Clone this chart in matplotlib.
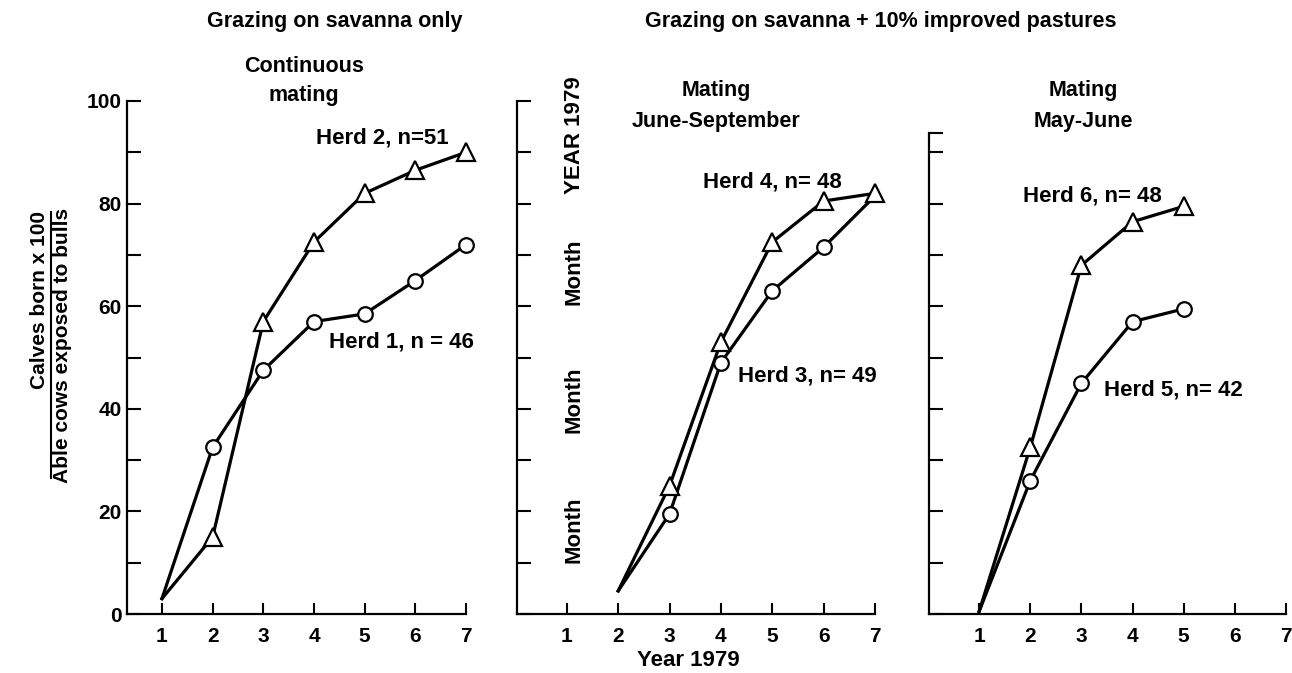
import matplotlib
matplotlib.use("Agg")
import matplotlib.pyplot as plt
from matplotlib.ticker import FixedLocator

plt.rcParams['font.family'] = ['Liberation Sans', 'DejaVu Sans']
plt.rcParams['font.weight'] = 'bold'

# data (% calves born per able cow, cumulative by month)
months1 = [1, 2, 3, 4, 5, 6, 7]
herd1 = [3, 32.5, 47.5, 57, 58.5, 65, 72]
herd2 = [3, 15, 57, 72.5, 82, 86.5, 90]

months2 = [2, 3, 4, 5, 6, 7]
herd3 = [4.5, 19.5, 49, 63, 71.5, 81.5]
herd4 = [4.5, 25, 53, 72.5, 80.5, 82]

months3 = [1, 2, 3, 4, 5]
herd5 = [0.5, 26, 45, 57, 59.5]
herd6 = [0.5, 32.5, 68, 76.5, 79.5]

xticks = [1, 2, 3, 4, 5, 6, 7]

W, H = 1292, 673
fig = plt.figure(figsize=(W / 100, H / 100), dpi=100)

def px_axes(left, right, top, bottom):
    return fig.add_axes([left / W, (H - bottom) / H, (right - left) / W, (bottom - top) / H])

def style(ax, xmin, ymax, show_ylabels):
    ax.set_xlim(xmin, 7)
    ax.set_ylim(0, ymax)
    for s in ['top', 'right']:
        ax.spines[s].set_visible(False)
    for s in ['left', 'bottom']:
        ax.spines[s].set_linewidth(1.6)
    ax.xaxis.set_major_locator(FixedLocator(xticks))
    ticks = [v for v in range(0, 101, 10) if v <= ymax]
    if ymax not in ticks:
        ticks.append(ymax)
    ax.yaxis.set_major_locator(FixedLocator(ticks))
    ax.tick_params(axis='x', direction='in', length=8, width=1.5, labelsize=15, pad=9)
    ax.tick_params(axis='y', direction='in', length=10, width=1.5, labelsize=15, pad=4)
    if show_ylabels:
        ax.set_yticklabels([str(v) if v % 20 == 0 else '' for v in ticks])
    else:
        ax.set_yticklabels([])
    for lab in ax.get_xticklabels() + ax.get_yticklabels():
        lab.set_fontweight('bold')

def herd(ax, x, y, marker, ms, skip_last=False):
    idx = list(range(1, len(x) - (1 if skip_last else 0)))
    ax.plot(x, y, color='black', lw=2.3, marker=marker, ms=ms, mfc='white',
            mec='black', mew=1.6, markevery=idx, zorder=3, clip_on=False)

ax1 = px_axes(127, 466, 101, 614)
ax2 = px_axes(517, 875, 101, 614)
ax3 = px_axes(929, 1286, 133, 614)

style(ax1, 0.31, 100, True)
style(ax2, 0.03, 100, False)
style(ax3, 0.02, 93.8, False)

herd(ax1, months1, herd1, 'o', 10.5)
herd(ax1, months1, herd2, '^', 12.5)
herd(ax2, months2, herd3, 'o', 10.5, skip_last=True)
herd(ax2, months2, herd4, '^', 12.5)
herd(ax3, months3, herd5, 'o', 10.5)
herd(ax3, months3, herd6, '^', 12.5)

lab = dict(fontsize=16, fontweight='bold', va='center', ha='left')
ax1.text(4.03, 92.8, 'Herd 2, n=51', **lab)
ax1.text(4.29, 53.0, 'Herd 1, n = 46', **lab)
ax2.text(3.66, 84.2, 'Herd 4, n= 48', **lab)
ax2.text(4.33, 46.4, 'Herd 3, n= 49', **lab)
ax3.text(1.86, 81.5, 'Herd 6, n= 48', **lab)
ax3.text(3.45, 43.7, 'Herd 5, n= 42', **lab)

# headings
head = dict(fontsize=15.5, fontweight='bold', ha='center', va='center')
fig.text(335 / W, 1 - 21 / H, 'Grazing on savanna only', **head)
fig.text(881 / W, 1 - 21 / H, 'Grazing on savanna + 10% improved pastures', **head)
fig.text(304 / W, 1 - 81 / H, 'Continuous\nmating', linespacing=1.45, **head)
fig.text(716 / W, 1 - 106 / H, 'Mating\nJune-September', linespacing=1.6, **head)
fig.text(1083 / W, 1 - 106 / H, 'Mating\nMay-June', linespacing=1.6, **head)

# month labels in the middle panel
side = dict(fontsize=16, fontweight='bold', ha='center', va='center', rotation=90)
fig.text(574 / W, 1 - 135 / H, 'YEAR 1979', **side)
fig.text(574 / W, 1 - 272 / H, 'Month', **side)
fig.text(574 / W, 1 - 400 / H, 'Month', **side)
fig.text(574 / W, 1 - 530 / H, 'Month', **side)

# y label as a fraction
fig.text(40 / W, 1 - 300 / H, 'Calves born x 100', fontsize=15, fontweight='bold', ha='center', va='center', rotation=90)
fig.text(63 / W, 1 - 345 / H, 'Able cows exposed to bulls', fontsize=15, fontweight='bold', ha='center', va='center', rotation=90)
fig.add_artist(plt.Line2D([51 / W, 51 / W], [1 - 478 / H, 1 - 212 / H], color='black', lw=1.5))

fig.text(688 / W, 1 - 660 / H, 'Year 1979', fontsize=16, fontweight='bold', ha='center', va='center')

fig.savefig('out.png', dpi=100)
